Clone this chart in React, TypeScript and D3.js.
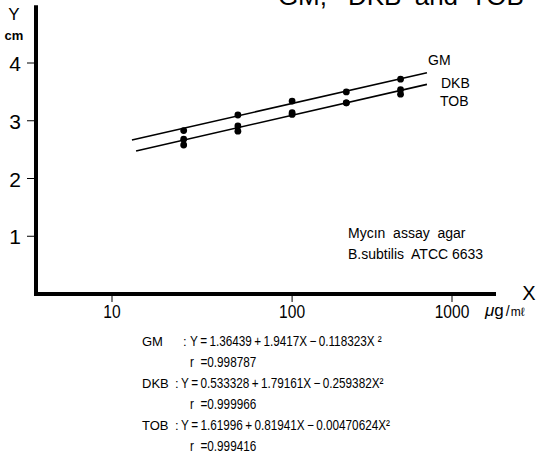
import React from 'react';
import { scaleLog, scaleLinear, line } from 'd3';

// doses (µg/ml) and zone diameters (cm)
const doses = [25, 50, 100, 200, 400];
const gmValues = [2.83, 3.1, 3.34, 3.5, 3.72];
const dkbValues = [2.68, 2.91, 3.14, 3.31, 3.54];
const tobValues = [2.58, 2.82, 3.11, 3.31, 3.46];

// fitted lines (end points)
const gmFitDoses = [12.9, 600];
const gmFitValues = [2.667, 3.83];
const lowFitDoses = [13.6, 600];
const lowFitValues = [2.476, 3.63];

const xTicks = [10, 100, 1000];
const yTicks = [1, 2, 3, 4];

const seriesNames = ['GM', 'DKB', 'TOB'];
const equations = [
  'Y\u2009=\u20091.36439\u2009+\u20091.9417X\u2009−\u20090.118323X ²',
  'Y\u2009=\u20090.533328\u2009+\u20091.79161X\u2009−\u20090.259382X²',
  'Y\u2009=\u20091.61996\u2009+\u20090.81941X\u2009−\u20090.00470624X²',
];
const rValues = ['0.998787', '0.999966', '0.999416'];

const W = 546;
const H = 459;
const SANS = "'Liberation Sans', Arial, Helvetica, sans-serif";

// condensed text: no narrow face installed, so squeeze horizontally
const Narrow = ({ x, y, size, k = 0.84, anchor = 'start', children }: any) => (
  <text
    transform={`translate(${x},${y}) scale(${k},1)`}
    fontFamily={SANS}
    fontSize={size}
    textAnchor={anchor}
    style={{ whiteSpace: 'pre' }}
  >
    {children}
  </text>
);

const App = () => {
  // the printed axis is not quite even, so the log scale is piecewise
  const x = scaleLog().domain([10, 500, 1000]).range([112, 418, 452]);
  const y = scaleLinear().domain([0, 4]).range([294, 63]);

  const fitLine = line<[number, number]>()
    .x(d => x(d[0]))
    .y(d => y(d[1]));

  const gmFit = gmFitDoses.map((d, i) => [d, gmFitValues[i]] as [number, number]);
  const lowFit = lowFitDoses.map((d, i) => [d, lowFitValues[i]] as [number, number]);
  const allSeries = [gmValues, dkbValues, tobValues];

  return (
    <svg
      width={W}
      height={H}
      style={{ position: 'absolute', left: 0, top: 0, background: '#fff' }}
    >
      {/* cropped title at the top edge */}
      <text x={327} y={5} fontFamily={SANS} fontSize={26} textAnchor="end">GM,</text>
      <text x={348} y={5} fontFamily={SANS} fontSize={26} wordSpacing={6}>DKB and TOB</text>

      {/* axes */}
      <line x1={36} x2={36} y1={y(5)} y2={296} stroke="#000" strokeWidth={4} />
      <line x1={34} x2={496} y1={294} y2={294} stroke="#000" strokeWidth={4} />

      {yTicks.map(t => (
        <g key={t}>
          <line x1={27} x2={35} y1={y(t)} y2={y(t)} stroke="#000" strokeWidth={1} />
          <text x={21} y={y(t) + 8} fontFamily={SANS} fontSize={21} textAnchor="end">{t}</text>
        </g>
      ))}
      {xTicks.map(t => (
        <g key={t}>
          <line x1={x(t)} x2={x(t)} y1={296} y2={302} stroke="#000" strokeWidth={1} />
          <Narrow x={x(t)} y={318} size={19} k={0.82} anchor="middle">{t}</Narrow>
        </g>
      ))}

      <text x={14} y={20} fontFamily={SANS} fontSize={17} textAnchor="middle">Y</text>
      <text x={14} y={40} fontFamily={SANS} fontSize={13} fontWeight="bold" textAnchor="middle">cm</text>
      <text x={529} y={300} fontFamily={SANS} fontSize={20} textAnchor="middle">X</text>
      <text x={485} y={316} fontFamily={SANS}>
        <tspan fontSize={17} fontStyle="italic">μ</tspan>
        <tspan fontSize={17}>g</tspan>
        <tspan fontSize={14} dx={2}>/</tspan>
        <tspan fontSize={12} dx={1}>mℓ</tspan>
      </text>

      {/* fitted lines */}
      <path d={fitLine(gmFit) || ''} fill="none" stroke="#000" strokeWidth={1.6} />
      <path d={fitLine(lowFit) || ''} fill="none" stroke="#000" strokeWidth={1.6} />

      {/* data points */}
      {allSeries.map((vals, si) =>
        vals.map((v, i) => (
          <circle key={`${si}-${i}`} cx={x(doses[i])} cy={y(v)} r={3.4} fill="#000" />
        ))
      )}

      {/* series labels */}
      <text x={428} y={65} fontFamily={SANS} fontSize={14}>GM</text>
      <text x={441} y={88} fontFamily={SANS} fontSize={14}>DKB</text>
      <text x={440} y={106} fontFamily={SANS} fontSize={14}>TOB</text>

      {/* annotation */}
      <text x={348} y={238} fontFamily={SANS} fontSize={14} style={{ whiteSpace: 'pre' }}>
        {'Mycın  assay  agar'}
      </text>
      <text x={348} y={259} fontFamily={SANS} fontSize={14} style={{ whiteSpace: 'pre' }}>
        {'B.subtilis  ATCC 6633'}
      </text>

      {/* regression equations */}
      {seriesNames.map((name, i) => {
        const base = 346 + i * 42;
        const colonX = i === 0 ? 183 : 175;
        const eqX = i === 0 ? 190 : 181;
        return (
          <g key={name}>
            <text x={142} y={base} fontFamily={SANS} fontSize={13}>{name}</text>
            <text x={colonX} y={base} fontFamily={SANS} fontSize={13}>:</text>
            <Narrow x={eqX} y={base} size={14}>{equations[i]}</Narrow>
            <Narrow x={190} y={base + 21} size={14}>{`r  =${rValues[i]}`}</Narrow>
          </g>
        );
      })}
    </svg>
  );
};

export default App;
